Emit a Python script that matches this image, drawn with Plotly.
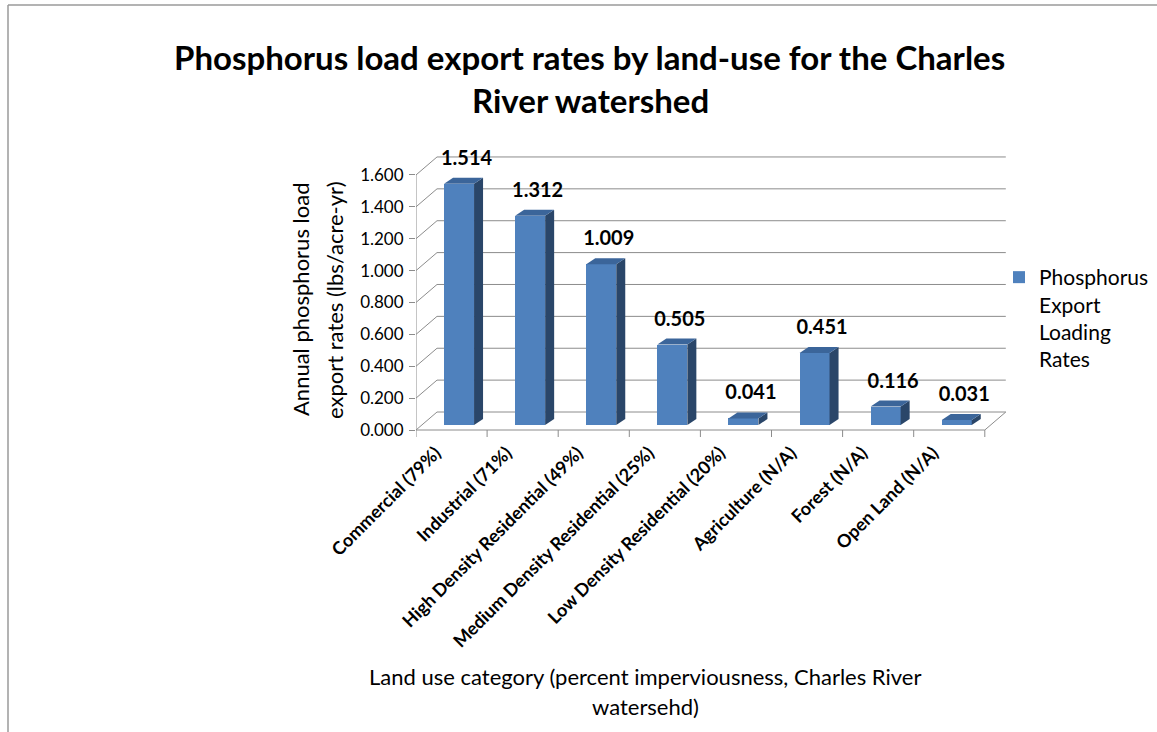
import plotly.graph_objects as go

# ---------------- data ----------------
categories = [
    "Commercial (79%)",
    "Industrial (71%)",
    "High Density Residential (49%)",
    "Medium Density Residential (25%)",
    "Low Density Residential (20%)",
    "Agriculture (N/A)",
    "Forest (N/A)",
    "Open Land (N/A)",
]
values = [1.514, 1.312, 1.009, 0.505, 0.041, 0.451, 0.116, 0.031]
y_ticks = [0.0, 0.2, 0.4, 0.6, 0.8, 1.0, 1.2, 1.4, 1.6]
y_tick_labels = ["0.000", "0.200", "0.400", "0.600", "0.800", "1.000", "1.200", "1.400", "1.600"]
series_name = "Phosphorus<br>Export<br>Loading<br>Rates"
title_lines = ["Phosphorus load export rates by land-use for the Charles", "River watershed"]
y_title_lines = ["Annual phosphorus load", "export rates (lbs/acre-yr)"]
x_title_lines = ["Land use category (percent imperviousness, Charles River", "watersehd)"]

# ---------------- geometry (pixels -> data units) ----------------
W, H = 1157, 732
PLOT_L, PLOT_R, PLOT_T, PLOT_B = 416, 1010, 150, 438
FLOOR_PX = 430                      # pixel row of value 0 on the front edge
PX_X = 71.1                         # pixels per category
PX_Y = 159.4                        # pixels per value unit
N = len(categories)

x_min = -0.5
x_max = x_min + (PLOT_R - PLOT_L) / PX_X
y_min = -(PLOT_B - FLOOR_PX) / PX_Y
y_max = (FLOOR_PX - PLOT_T) / PX_Y

WALL_DX, WALL_DY = 21 / PX_X, 18 / PX_Y      # depth of the 3D box
BAR_SHIFT = 7.5 / PX_X                        # bars sit a bit inside the floor
BAR_BASE = 5 / PX_Y
BAR_W = 30 / PX_X
BAR_DX, BAR_DY = 9 / PX_X, 6 / PX_Y           # bar depth
LABEL_OFF = 21 / PX_Y
TICKLABEL_SHIFT = 16 / PX_X

FRONT = "#4F81BD"
SIDE = "#2A4669"
TOP = "#3B659A"
GRID = "#8C8C8C"
FONT = "Lato"


def px2paper(px, py):
    return (px - PLOT_L) / (PLOT_R - PLOT_L), (PLOT_B - py) / (PLOT_B - PLOT_T)


fig = go.Figure()

# front faces of bars
xc = [i + BAR_SHIFT for i in range(N)]
fig.add_trace(go.Bar(
    x=xc, y=values, base=[BAR_BASE] * N, width=BAR_W,
    marker=dict(color=FRONT, line=dict(width=0)),
    name=series_name, showlegend=True, hoverinfo="skip",
))

# side and top faces
for x, v in zip(xc, values):
    xl, xr = x - BAR_W / 2, x + BAR_W / 2
    yb, yt = BAR_BASE, BAR_BASE + v
    fig.add_trace(go.Scatter(
        x=[xr, xr + BAR_DX, xr + BAR_DX, xr, xr],
        y=[yb, yb + BAR_DY, yt + BAR_DY, yt, yb],
        fill="toself", fillcolor=SIDE, mode="lines", line=dict(width=0, color=SIDE),
        showlegend=False, hoverinfo="skip"))
    fig.add_trace(go.Scatter(
        x=[xl, xl + BAR_DX, xr + BAR_DX, xr, xl],
        y=[yt, yt + BAR_DY, yt + BAR_DY, yt, yt],
        fill="toself", fillcolor=TOP, mode="lines", line=dict(width=0, color=TOP),
        showlegend=False, hoverinfo="skip"))

# data labels
fig.add_trace(go.Scatter(
    x=[x + BAR_DX / 2 + 3 / PX_X for x in xc],
    y=[BAR_BASE + v + BAR_DY / 2 + LABEL_OFF for v in values],
    mode="text", text=[f"{v:.3f}" for v in values],
    textfont=dict(family=FONT, size=20, color="#000000", weight="bold"),
    textposition="middle center", showlegend=False, hoverinfo="skip", cliponaxis=False))

# walls, floor, axes as shapes beneath the bars
shapes = []
line = dict(color=GRID, width=1)
for v in y_ticks:
    shapes.append(dict(type="line", xref="x", yref="y", layer="below", line=line,
                       x0=x_min + WALL_DX, y0=v + WALL_DY, x1=x_min + N + WALL_DX, y1=v + WALL_DY))
    shapes.append(dict(type="line", xref="x", yref="y", layer="below", line=line,
                       x0=x_min, y0=v, x1=x_min + WALL_DX, y1=v + WALL_DY))
shapes.append(dict(type="line", xref="x", yref="y", layer="below", line=line,
                   x0=x_min, y0=0, x1=x_min + N, y1=0))
shapes.append(dict(type="line", xref="x", yref="y", layer="below", line=line,
                   x0=x_min + N, y0=0, x1=x_min + N + WALL_DX, y1=WALL_DY))
shapes.append(dict(type="line", xref="x", yref="y", layer="below", line=line,
                   x0=x_min, y0=0, x1=x_min, y1=y_ticks[-1]))
for k in range(N + 1):
    shapes.append(dict(type="line", xref="x", yref="y", layer="below", line=line,
                       x0=x_min + k, y0=0, x1=x_min + k, y1=-7 / PX_Y))
# chart border (top and left edges)
bx0, by0 = px2paper(8, 5)
bx1, _ = px2paper(W + 5, 5)
_, by1 = px2paper(8, H + 5)
shapes.append(dict(type="line", xref="paper", yref="paper", x0=bx0, y0=by0, x1=bx1, y1=by0,
                   line=dict(color="#9A9A9A", width=1.5)))
shapes.append(dict(type="line", xref="paper", yref="paper", x0=bx0, y0=by0, x1=bx0, y1=by1,
                   line=dict(color="#9A9A9A", width=1.5)))

annotations = []


def ann(text, px, py, size, bold=False, angle=0):
    x, y = px2paper(px, py)
    annotations.append(dict(text=text, x=x, y=y, xref="paper", yref="paper",
                            xanchor="center", yanchor="middle", showarrow=False, textangle=angle,
                            font=dict(family=FONT, size=size, color="#000000",
                                      weight="bold" if bold else "normal")))


ann(title_lines[0], 589, 57, 33, bold=True)
ann(title_lines[1], 590, 100, 33, bold=True)
ann(y_title_lines[0], 300, 300, 22, angle=-90)
ann(y_title_lines[1], 334, 300, 22, angle=-90)
ann(x_title_lines[0], 645, 676, 22)
ann(x_title_lines[1], 645, 706, 22)

lx, ly = px2paper(999, 257)

fig.update_layout(
    width=W, height=H,
    margin=dict(l=PLOT_L, r=W - PLOT_R, t=PLOT_T, b=H - PLOT_B, pad=0, autoexpand=False),
    paper_bgcolor="white", plot_bgcolor="white",
    font=dict(family=FONT, color="#000000"),
    shapes=shapes, annotations=annotations,
    bargap=0,
    xaxis=dict(range=[x_min, x_max], tickmode="array",
               tickvals=[i - TICKLABEL_SHIFT for i in range(N)], ticktext=categories,
               tickangle=-45, showgrid=False, zeroline=False, showline=False, ticks="",
               tickfont=dict(family=FONT, size=18, color="#000000", weight="bold"),
               automargin=False, fixedrange=True),
    yaxis=dict(range=[y_min, y_max], tickmode="array", tickvals=y_ticks, ticktext=y_tick_labels,
               showgrid=False, zeroline=False, showline=False, ticks="outside", ticklen=6,
               tickcolor=GRID, ticklabelstandoff=2, automargin=False,
               tickfont=dict(family=FONT, size=17, color="#000000"), fixedrange=True),
    legend=dict(x=lx, y=ly, xanchor="left", yanchor="top", valign="top",
                font=dict(family=FONT, size=21, color="#000000"), bgcolor="rgba(0,0,0,0)"),
    showlegend=True,
)

fig.write_html("out.html", config={"displayModeBar": False},
               post_script="document.body.style.margin='0px';document.body.style.overflow='hidden';")
